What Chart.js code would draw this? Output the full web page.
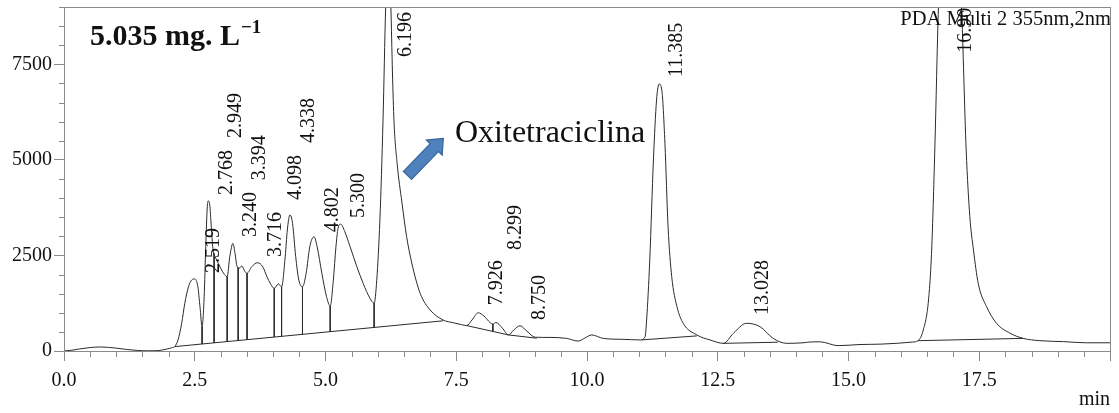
<!DOCTYPE html>
<html>
<head>
<meta charset="utf-8">
<script src="https://cdn.jsdelivr.net/npm/chart.js@4.4.0/dist/chart.umd.min.js"></script>
<style>
  html, body { margin: 0; padding: 0; background: #fff; }
  #chart { display: block; }
</style>
</head>
<body>
<canvas id="chart" width="1119" height="413"></canvas>
<script>
// retention time (min) and detector response
const times = [
  0, 0.15, 0.3, 0.5, 0.68, 0.85, 1.0, 1.2, 1.4, 1.6, 1.8, 1.96, 2.06, 2.12,
  2.18, 2.25, 2.31, 2.38, 2.44, 2.50, 2.56, 2.60, 2.64, 2.68, 2.71, 2.74, 2.76,
  2.79, 2.82, 2.85, 2.89, 2.95, 3.05, 3.12, 3.17, 3.23, 3.27, 3.31, 3.35, 3.40,
  3.46, 3.50, 3.59, 3.70, 3.80, 3.88, 3.95, 4.02, 4.10, 4.16, 4.23, 4.27, 4.32,
  4.37, 4.43, 4.49, 4.56, 4.63, 4.70, 4.78, 4.84, 4.93, 5.02, 5.09, 5.15, 5.20,
  5.24, 5.29, 5.37, 5.47, 5.60, 5.72, 5.85, 5.93, 5.98, 6.04, 6.10, 6.15, 6.20,
  6.25, 6.28, 6.31, 6.37, 6.46, 6.55, 6.65, 6.81, 7.00, 7.25, 7.44, 7.60, 7.70,
  7.80, 7.92, 8.03, 8.15, 8.20, 8.26, 8.38, 8.50, 8.60, 8.72, 8.85, 9.01, 9.29,
  9.61, 9.83, 9.96, 10.09, 10.31, 10.69, 11.01, 11.11, 11.14, 11.20, 11.27, 11.33,
  11.38, 11.43, 11.49, 11.55, 11.62, 11.72, 11.84, 12.10, 12.35, 12.61, 12.80,
  13.05, 13.31, 13.56, 13.82, 14.13, 14.26, 14.46, 14.80, 15.22, 15.62, 16.23,
  16.33, 16.43, 16.53, 16.59, 16.65, 16.72, 16.80, 16.90, 17.00, 17.16, 17.25,
  17.32, 17.39, 17.48, 17.64, 17.83, 18.09, 18.34, 18.66, 19.11, 19.55, 20.0
];
const signal = [
  0, 20, 55, 90, 105, 95, 75, 40, 15, 5, 10, 50, 85, 120,
  290, 725, 1250, 1680, 1855, 1885, 1680, 1160, 640, 1420, 2730, 3775, 3930,
  3775, 3165, 2640, 2470, 2295, 2035, 1945, 2470, 2815, 2555, 2205, 2165, 2225,
  2075, 2035, 2205, 2310, 2205, 1945, 1755, 1640, 1755, 1680, 2470, 3165, 3560,
  3340, 2470, 1855, 1680, 2035, 2730, 2990, 2730, 2035, 1420, 1175, 1855, 2730,
  3210, 3320, 3120, 2730, 2205, 1770, 1380, 1250, 1855, 3430, 6045, 9000, 10800,
  9000, 7300, 6000, 4900, 3900, 3000, 2300, 1510, 1075, 810, 740, 690, 665,
  810, 1000, 915, 740, 705, 745, 600, 420, 550, 660, 520, 360, 355,
  330, 260, 340, 420, 330, 305, 290, 370, 810, 2380, 5000, 6565,
  6985, 6830, 5440, 3250, 1945, 1160, 725, 420, 290, 200, 465,
  725, 635, 330, 200, 215, 235, 240, 140, 170, 180, 235,
  270, 550, 1335, 2640, 5260, 9000, 11500, 12800, 12000, 9000, 5260,
  3515, 2640, 1770, 1160, 725, 465, 330, 270, 245, 215, 215
];

// integration baselines drawn under the peaks
const baselineTimes = [[2.12, 7.25], [7.70, 8.50, 9.04], [11.04, 12.10], [12.60, 13.65], [16.33, 18.34]];
const baselineSignal = [[115, 790], [665, 420, 335], [290, 395], [200, 230], [270, 330]];

// vertical drop lines between unresolved peaks
const dropTimes = [2.64, 2.87, 3.12, 3.33, 3.50, 4.02, 4.16, 4.56, 5.09, 5.93, 8.20];
const dropTop = [640, 2555, 1945, 2185, 2035, 1640, 1680, 1680, 1175, 1250, 705];
const dropBottom = [183, 214, 247, 274, 297, 365, 383, 436, 506, 616, 512];

// peak retention times and the signal level where each label starts
const peakTimes = [2.519, 2.768, 2.949, 3.240, 3.394, 3.716, 4.098, 4.338, 4.802, 5.300, 6.196, 7.926, 8.299, 8.750, 11.385, 13.028, 16.901];
const labelLevel = [2040, 4080, 5570, 2980, 4470, 2460, 3950, 5440, 3110, 3480, 7690, 1200, 2640, 810, 7170, 940, 7800];

const serif = '"Liberation Serif", "Times New Roman", serif';
const axisGray = '#8a8a8a';
const lineColor = '#2b2b2b';

const nearMultiple = (v, step) => Math.abs(v / step - Math.round(v / step)) < 1e-6;

const datasets = [{
  data: times.map((t, i) => ({ x: t, y: signal[i] })),
  borderColor: lineColor,
  borderWidth: 1,
  pointRadius: 0,
  cubicInterpolationMode: 'monotone'
}];

baselineTimes.forEach((seg, k) => {
  datasets.push({
    data: seg.map((t, i) => ({ x: t, y: baselineSignal[k][i] })),
    borderColor: lineColor,
    borderWidth: 1,
    pointRadius: 0
  });
});

dropTimes.forEach((t, i) => {
  datasets.push({
    data: [{ x: t, y: dropTop[i] }, { x: t, y: dropBottom[i] }],
    borderColor: lineColor,
    borderWidth: 1,
    pointRadius: 0
  });
});

const decorPlugin = {
  id: 'decor',
  afterDatasetsDraw(chart) {
    const { ctx, chartArea: a, scales: { x, y } } = chart;

    // peak labels, clipped to the plot frame
    ctx.save();
    ctx.beginPath();
    ctx.rect(a.left, a.top, a.right - a.left, a.bottom - a.top);
    ctx.clip();
    ctx.font = '20px ' + serif;
    ctx.fillStyle = '#111';
    ctx.textAlign = 'left';
    ctx.textBaseline = 'alphabetic';
    peakTimes.forEach((t, i) => {
      ctx.save();
      ctx.translate(x.getPixelForValue(t) + 23, y.getPixelForValue(labelLevel[i]));
      ctx.rotate(-Math.PI / 2);
      ctx.fillText(t.toFixed(3), 0, 0);
      ctx.restore();
    });

    // detector info, top right
    ctx.textAlign = 'right';
    ctx.font = '20.5px ' + serif;
    ctx.fillText('PDA Multi 2 355nm,2nm', a.right + 1, a.top + 18);
    ctx.restore();

    // concentration title
    ctx.save();
    ctx.fillStyle = '#111';
    ctx.textAlign = 'left';
    ctx.textBaseline = 'alphabetic';
    ctx.font = 'bold 30px ' + serif;
    const title = '5.035 mg. L';
    ctx.fillText(title, 90, 45);
    const w = ctx.measureText(title).width;
    ctx.font = 'bold 19px ' + serif;
    ctx.fillText('\u22121', 90 + w + 1, 33);

    // compound name with arrow pointing at the peak
    ctx.font = '32px ' + serif;
    ctx.fillText('Oxitetraciclina', 455, 142);

    const tail = { x: 407.5, y: 175.5 };
    const tip = { x: 443.3, y: 138.3 };
    const len = Math.hypot(tip.x - tail.x, tip.y - tail.y);
    const d = { x: (tip.x - tail.x) / len, y: (tip.y - tail.y) / len };
    const n = { x: -d.y, y: d.x };
    const shaftHalf = 5.7, headHalf = 11, headLen = 13;
    const sl = len - headLen;
    const p = (along, side) => [tail.x + d.x * along + n.x * side, tail.y + d.y * along + n.y * side];
    const pts = [p(0, shaftHalf), p(sl, shaftHalf), p(sl, headHalf), p(len, 0), p(sl, -headHalf), p(sl, -shaftHalf), p(0, -shaftHalf)];
    ctx.beginPath();
    pts.forEach(([px, py], i) => i ? ctx.lineTo(px, py) : ctx.moveTo(px, py));
    ctx.closePath();
    ctx.fillStyle = '#4f81bd';
    ctx.fill();
    ctx.strokeStyle = '#3a679c';
    ctx.lineWidth = 1.2;
    ctx.stroke();
    ctx.restore();
  },
  afterDraw(chart) {
    const { ctx, chartArea: a, scales: { x, y } } = chart;
    ctx.save();
    ctx.strokeStyle = axisGray;
    ctx.lineWidth = 1;

    // minor ticks
    ctx.beginPath();
    for (let i = 0; i <= 40; i++) {
      if (i % 5 === 0) continue;
      const px = Math.round(x.getPixelForValue(i * 0.5)) + 0.5;
      ctx.moveTo(px, a.bottom);
      ctx.lineTo(px, a.bottom + 6);
    }
    for (let i = 0; i <= 18; i++) {
      if (i % 5 === 0) continue;
      const py = Math.round(y.getPixelForValue(i * 500)) + 0.5;
      ctx.moveTo(a.left - 5, py);
      ctx.lineTo(a.left, py);
    }
    ctx.stroke();

    // frame
    ctx.strokeRect(Math.round(a.left) + 0.5, Math.round(a.top) + 0.5,
      Math.round(a.right - a.left), Math.round(a.bottom - a.top));

    ctx.fillStyle = '#111';
    ctx.font = '20px ' + serif;
    ctx.textAlign = 'right';
    ctx.textBaseline = 'alphabetic';
    ctx.fillText('min', a.right, 405);
    ctx.restore();
  }
};

// keep the plot area where the reference has it (no extra room for edge labels)
const noEdgePadding = s => {
  s.paddingTop = 0;
  s.paddingBottom = 0;
  s.paddingLeft = 0;
  s.paddingRight = 0;
};

new Chart(document.getElementById('chart'), {
  type: 'line',
  data: { datasets },
  plugins: [decorPlugin],
  options: {
    responsive: false,
    animation: false,
    layout: { padding: { top: 7, right: 9, left: 0, bottom: 0 } },
    plugins: { legend: { display: false }, tooltip: { enabled: false } },
    scales: {
      x: {
        type: 'linear',
        min: 0,
        max: 20,
        afterFit(s) { s.height = 62; noEdgePadding(s); },
        afterBuildTicks(s) {
          s.ticks = s.ticks.filter(t => nearMultiple(t.value, 2.5));
        },
        ticks: {
          stepSize: 2.5,
          autoSkip: false,
          maxRotation: 0,
          padding: 8,
          color: '#111',
          font: { family: serif, size: 20 },
          callback: v => (v >= 20 ? '' : Number(v).toFixed(1))
        },
        grid: { drawOnChartArea: false, tickLength: 10, tickColor: axisGray },
        border: { display: false }
      },
      y: {
        type: 'linear',
        min: 0,
        max: 9000,
        afterFit(s) { s.width = 64; noEdgePadding(s); },
        afterBuildTicks(s) {
          s.ticks = s.ticks.filter(t => nearMultiple(t.value, 2500));
        },
        ticks: {
          stepSize: 500,
          autoSkip: false,
          padding: 2,
          color: '#111',
          font: { family: serif, size: 20 },
          callback: v => String(v)
        },
        grid: { drawOnChartArea: false, tickLength: 10, tickColor: axisGray },
        border: { display: false }
      }
    }
  }
});
</script>
</body>
</html>
